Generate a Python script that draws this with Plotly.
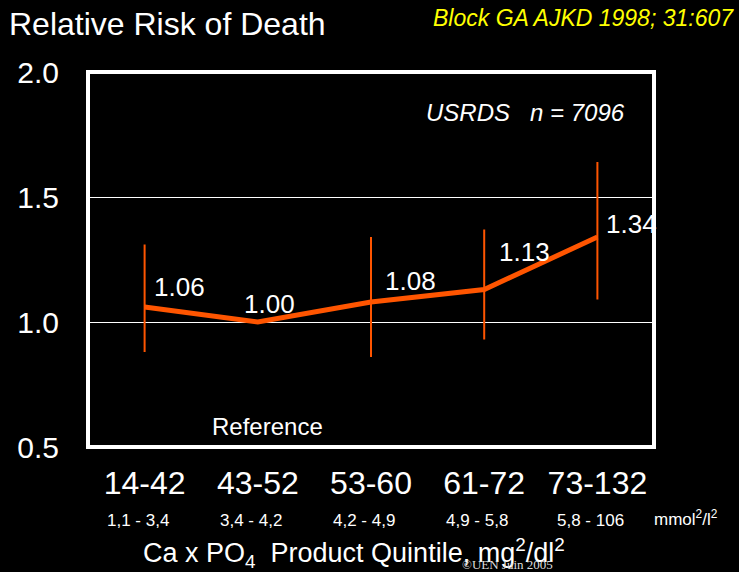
import plotly.graph_objects as go

categories = ["14-42", "43-52", "53-60", "61-72", "73-132"]
sub_labels = ["1,1 - 3,4", "3,4 - 4,2", "4,2 - 4,9", "4,9 - 5,8", "5,8 - 106"]
relative_risk = [1.06, 1.00, 1.08, 1.13, 1.34]
ci_upper = [1.31, None, 1.34, 1.37, 1.64]
ci_lower = [0.88, None, 0.86, 0.93, 1.09]
y_ticks = [0.5, 1.0, 1.5, 2.0]

FONT = "Liberation Sans, Arial, sans-serif"
ORANGE = "#FF5500"

W, H = 739, 572
L, R, T, B = 88, 85, 72, 125
pw, ph = W - L - R, H - T - B


def px_x(v):
    return (v - L) / pw


def px_y(v):
    return (H - B - v) / ph


x = list(range(len(categories)))
err_plus = [(u - v) if u is not None else 0 for u, v in zip(ci_upper, relative_risk)]
err_minus = [(v - l) if l is not None else 0 for l, v in zip(ci_lower, relative_risk)]

fig = go.Figure()
fig.add_trace(go.Scatter(
    x=x, y=relative_risk, mode="lines",
    line=dict(color=ORANGE, width=5),
    error_y=dict(type="data", symmetric=False, array=err_plus, arrayminus=err_minus,
                 color=ORANGE, thickness=2, width=0),
    hoverinfo="skip", showlegend=False,
))

annotations = []
# data labels
label_offsets = [(7, 20), (-16, 18), (12, 21), (13, 38), (7, 13)]
for xi, v, (dx, dy) in zip(x, relative_risk, label_offsets):
    annotations.append(dict(x=xi, y=v, xref="x", yref="y", text=f"{v:.2f}",
                            showarrow=False, xanchor="left", yanchor="middle",
                            xshift=dx, yshift=dy,
                            font=dict(family=FONT, size=26, color="white")))
# sub labels (mmol)
for xi, s in zip(x, sub_labels):
    annotations.append(dict(x=xi, y=px_y(520), xref="x", yref="paper", text=s,
                            showarrow=False, xanchor="center", yanchor="middle", xshift=-7,
                            font=dict(family=FONT, size=17, color="white")))


def pann(px, py, text, size, color="white", anchor="center", family=FONT):
    return dict(x=px_x(px), y=px_y(py), xref="paper", yref="paper", text=text,
                showarrow=False, xanchor=anchor, yanchor="middle",
                font=dict(family=family, size=size, color=color))


annotations += [
    pann(652, 518, "mmol<sup>2</sup>/l<sup>2</sup>", 17, anchor="left"),
    pann(354, 553, "Ca x PO<sub>4</sub>  Product Quintile, mg<sup>2</sup>/dl<sup>2</sup>", 27),
    pann(507, 564, "©UEN Juin 2005", 13, color="#dddddd",
         family="Liberation Serif, Times New Roman, serif"),
    pann(7, 24, "Relative Risk of Death", 32, anchor="left"),
    pann(736, 18, "<i>Block GA AJKD 1998; 31:607</i>", 23, color="#FFFF00", anchor="right"),
    pann(525, 112, "<i>USRDS   n = 7096</i>", 24),
    pann(267, 426, "Reference", 24),
]

fig.update_layout(
    width=W, height=H,
    margin=dict(l=L, r=R, t=T, b=B),
    paper_bgcolor="black", plot_bgcolor="black",
    font=dict(family=FONT, color="white"),
    annotations=annotations,
    xaxis=dict(range=[-0.5, 4.5], tickvals=x, ticktext=categories,
               tickfont=dict(family=FONT, size=32, color="white"),
               ticks="outside", ticklen=8, tickcolor="black",
               showgrid=False, zeroline=False, showline=False),
    yaxis=dict(range=[0.5, 2.0], tickvals=y_ticks, ticktext=[f"{t:.1f}" for t in y_ticks],
               tickfont=dict(family=FONT, size=30, color="white"),
               ticks="outside", ticklen=22, tickcolor="black",
               showgrid=True, gridcolor="white", gridwidth=1, zeroline=False, showline=False),
    shapes=[dict(type="rect", xref="x domain", yref="y domain", x0=0, x1=1, y0=0, y1=1,
                 line=dict(color="white", width=4))],
)

fig.write_html("out.html", config={"displayModeBar": False})

# remove default page margin so the figure fills the window
with open("out.html", encoding="utf-8") as f:
    html = f.read()
html = html.replace("<head>", "<head><style>html,body{margin:0;padding:0;background:black;}</style>", 1)
with open("out.html", "w", encoding="utf-8") as f:
    f.write(html)
